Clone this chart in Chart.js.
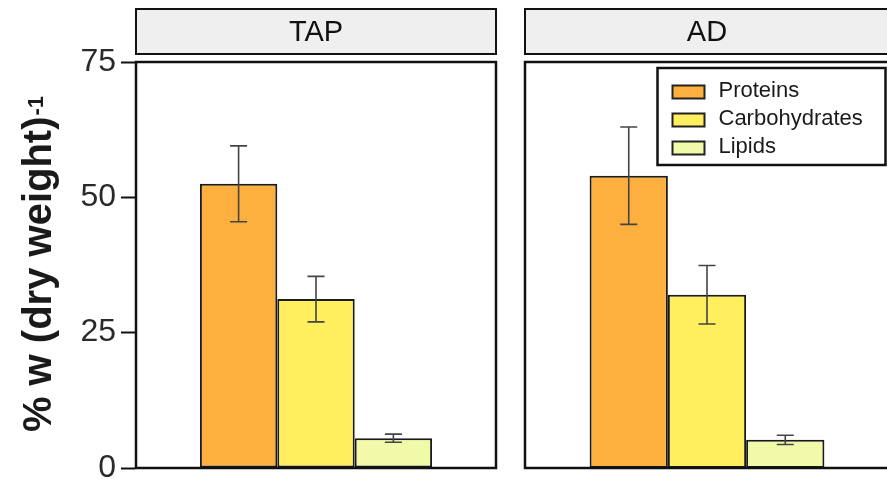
<!DOCTYPE html>
<html><head><meta charset="utf-8">
<script src="https://cdn.jsdelivr.net/npm/chart.js@4"></script>
<style>
html,body{margin:0;padding:0;background:#fff;overflow:hidden;width:887px;height:479px;position:relative;}
canvas{position:absolute;top:0;}
#c1{left:0;}
#c2{left:505px;}
</style></head><body>
<canvas id="c1" width="505" height="500"></canvas>
<canvas id="c2" width="390" height="500"></canvas>
<script>
// ---- data ----
const panels = ['TAP', 'AD'];
const series = ['Proteins', 'Carbohydrates', 'Lipids'];
const tapMeans = [52.5, 31.2, 5.5];
const tapErr = [7.0, 4.2, 0.75];
const adMeans = [54.0, 32.0, 5.2];
const adErr = [9.0, 5.4, 0.85];
const yTicks = [0, 25, 50, 75];
const yTitle = '% w (dry weight)';
const yTitleSup = '-1';

// ---- styles ----
const colors = ['#FDB03D', '#FFEE5E', '#F0FAA9'];
const FONT = '"Liberation Sans", Arial, sans-serif';

function makeDatasets(means, errs) {
  return series.map((s, i) => ({
    label: s,
    data: [means[i]],
    err: [errs[i]],
    backgroundColor: colors[i],
    borderColor: '#1a1a1a',
    borderWidth: 2,
    borderSkipped: false,
    categoryPercentage: 0.645,
    barPercentage: 1.0
  }));
}

function openRect(ctx, l, t, r, b, openRight) {
  ctx.beginPath();
  if (openRight) {
    ctx.moveTo(r, t); ctx.lineTo(l, t); ctx.lineTo(l, b); ctx.lineTo(r, b);
  } else {
    ctx.rect(l, t, r - l, b - t);
  }
  ctx.stroke();
}

const panelPlugin = {
  id: 'panel',
  beforeDraw(chart) {
    const ctx = chart.ctx, a = chart.chartArea;
    const o = chart.options.plugins.panel;
    const r = o.openRight ? chart.width + 5 : a.right;
    ctx.save();
    ctx.fillStyle = '#efefef';
    ctx.fillRect(a.left, 9, r - a.left, 45);
    ctx.strokeStyle = '#111';
    ctx.lineWidth = 2;
    openRect(ctx, a.left, 9, r, 54, o.openRight);
    ctx.fillStyle = '#111';
    ctx.font = '29px ' + FONT;
    ctx.textAlign = 'center';
    ctx.textBaseline = 'middle';
    ctx.fillText(o.title, (a.left + a.right) / 2, 33);
    ctx.restore();
  },
  afterDraw(chart) {
    const ctx = chart.ctx, a = chart.chartArea;
    const o = chart.options.plugins.panel;
    const r = o.openRight ? chart.width + 5 : a.right;
    ctx.save();
    ctx.strokeStyle = '#111';
    ctx.lineWidth = 2.5;
    openRect(ctx, a.left, a.top, r, a.bottom, o.openRight);
    ctx.restore();
    if (o.yTitle) {
      ctx.save();
      const cy = (a.top + a.bottom) / 2 - 1;
      ctx.fillStyle = '#1a1a1a';
      ctx.font = 'bold 40px ' + FONT;
      const mw = ctx.measureText(yTitle).width;
      ctx.font = 'bold 22px ' + FONT;
      const sw = ctx.measureText(yTitleSup).width;
      const total = mw + sw + 1;
      ctx.translate(51, cy + total / 2);
      ctx.rotate(-Math.PI / 2);
      ctx.textBaseline = 'alphabetic';
      ctx.textAlign = 'left';
      ctx.font = 'bold 40px ' + FONT;
      ctx.fillText(yTitle, 0, 0);
      ctx.font = 'bold 22px ' + FONT;
      ctx.fillText(yTitleSup, mw + 1, -8);
      ctx.restore();
    }
    if (o.legend) {
      const right = o.legendRight, top = a.top + 6, w = 228, h = 97;
      const left = right - w;
      ctx.save();
      ctx.fillStyle = '#fff';
      ctx.fillRect(left, top, w, h);
      ctx.strokeStyle = '#111';
      ctx.lineWidth = 2.5;
      ctx.strokeRect(left, top, w, h);
      chart.data.datasets.forEach((ds, i) => {
        const cy = top + 24 + i * 28;
        ctx.fillStyle = ds.backgroundColor;
        ctx.fillRect(left + 15, cy - 6.5, 32, 13);
        ctx.strokeStyle = '#222';
        ctx.lineWidth = 2;
        ctx.strokeRect(left + 15, cy - 6.5, 32, 13);
        ctx.fillStyle = '#1a1a1a';
        ctx.font = '22px ' + FONT;
        ctx.textAlign = 'left';
        ctx.textBaseline = 'middle';
        ctx.fillText(ds.label, left + 61, cy - 1);
      });
      ctx.restore();
    }
  }
};

const errorBarPlugin = {
  id: 'errbars',
  afterDatasetsDraw(chart) {
    const ctx = chart.ctx, ys = chart.scales.y;
    ctx.save();
    ctx.strokeStyle = '#444';
    ctx.lineWidth = 1.6;
    chart.data.datasets.forEach((ds, i) => {
      const meta = chart.getDatasetMeta(i);
      meta.data.forEach((bar, j) => {
        const m = ds.data[j], e = ds.err[j];
        const yt = ys.getPixelForValue(m + e), yb = ys.getPixelForValue(m - e);
        const x = bar.x, cw = 8.5;
        ctx.beginPath();
        ctx.moveTo(x, yt); ctx.lineTo(x, yb);
        ctx.moveTo(x - cw, yt); ctx.lineTo(x + cw, yt);
        ctx.moveTo(x - cw, yb); ctx.lineTo(x + cw, yb);
        ctx.stroke();
      });
    });
    ctx.restore();
  }
};

function makeChart(id, title, means, errs, showY, legend, padding, openRight, legendRight) {
  return new Chart(document.getElementById(id), {
    type: 'bar',
    data: { labels: [title], datasets: makeDatasets(means, errs) },
    options: {
      responsive: false,
      animation: false,
      layout: { padding: padding },
      plugins: {
        legend: { display: false },
        tooltip: { enabled: false },
        panel: { title: title, yTitle: showY, legend: legend, openRight: openRight, legendRight: legendRight }
      },
      scales: {
        x: { display: false },
        y: {
          display: showY,
          min: 0, max: 75,
          afterBuildTicks(scale) { scale.ticks = yTicks.map(v => ({ value: v })); },
          afterFit(scale) { if (showY) scale.width = 136; },
          border: { display: true, color: '#111', width: 2 },
          grid: { drawOnChartArea: false, drawTicks: true, tickLength: 15, tickWidth: 2, tickColor: '#111' },
          ticks: { color: '#2a2a2a', padding: 5, font: { family: FONT, size: 32 } }
        }
      }
    },
    plugins: [panelPlugin, errorBarPlugin]
  });
}

makeChart('c1', panels[0], tapMeans, tapErr, true, false, { left: 0, right: 9, top: 62, bottom: 32 }, false, 0);
makeChart('c2', panels[1], adMeans, adErr, false, true, { left: 20, right: 6, top: 62, bottom: 32 }, true, 380.5);
</script>
</body></html>
